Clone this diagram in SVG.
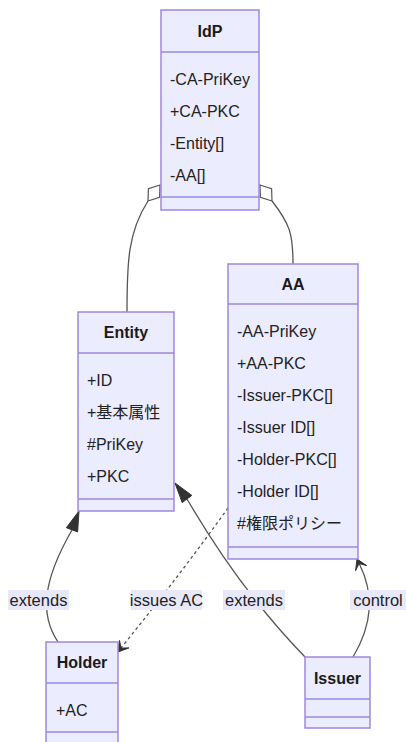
<svg xmlns="http://www.w3.org/2000/svg" width="406" height="742" viewBox="0 0 406 742">
  <style>
    .box { fill: #ececff; stroke: #a088e0; stroke-width: 1.5; }
    .div { stroke: #a088e0; stroke-width: 1.5; }
    .title { font-family: "Liberation Sans", "Noto Sans CJK JP", sans-serif; font-size: 16px; font-weight: bold; fill: #1a1a1a; text-anchor: middle; }
    .member { font-family: "Liberation Sans", "Noto Sans CJK JP", sans-serif; font-size: 16px; fill: #222; }
    .edge { fill: none; stroke: #555; stroke-width: 1.3; }
    .dotted { stroke-dasharray: 3 3; }
    .head { fill: #333; stroke: #333; stroke-width: 1; stroke-linejoin: miter; }
    .agg { fill: #ffffff; stroke: #555; stroke-width: 1.2; }
    .lblbg { fill: #e8e8fb; }
    .lbl { font-family: "Liberation Sans", "Noto Sans CJK JP", sans-serif; font-size: 16.5px; fill: #222; text-anchor: middle; }
  </style>

  <!-- connectors -->
  <g id="connectors">
    <!-- Entity aggregated by IdP -->
    <path class="edge" d="M127,312 C127,262 128,232 148,201"/>
    <polygon class="agg" points="148,201 148.4,188.8 160,185 159.6,197.2"/>
    <!-- AA aggregated by IdP -->
    <path class="edge" d="M293,264 C293,234 290,224 272,201"/>
    <polygon class="agg" points="272,201 271.6,188.8 260,185 260.4,197.2"/>

    <!-- Holder extends Entity -->
    <path class="edge" d="M58,642 C40,615 42,582 72,530"/>
    <polygon class="head" points="79,511 77.6,531.9 66.4,527.7"/>

    <!-- Issuer extends Entity -->
    <path class="edge" d="M305,657 Q240,590 187,499"/>
    <polygon class="head" points="175,483 191.8,495.4 182.2,502.6"/>

    <!-- AA issues AC to Holder -->
    <path class="edge dotted" d="M228,508 Q180,575 121,648"/>
    <polygon class="head" points="118,652 128.9,647.9 121.1,648.1 119.5,640.5"/>

    <!-- Issuer controls AA -->
    <path class="edge" d="M353,657 C372,625 375,595 359,563"/>
    <polygon class="head" points="357,559 366.6,565.6 359,563.5 355.6,570.6"/>

    <!-- edge labels -->
    <rect class="lblbg" x="8" y="590" width="61" height="20"/>
    <text class="lbl" x="38.5" y="606">extends</text>
    <rect class="lblbg" x="131" y="590" width="71" height="20"/>
    <text class="lbl" x="166.5" y="606">issues AC</text>
    <rect class="lblbg" x="223" y="590" width="62" height="20"/>
    <text class="lbl" x="254" y="606">extends</text>
    <rect class="lblbg" x="350" y="590" width="56" height="20"/>
    <text class="lbl" x="378" y="606">control</text>
  </g>

  <!-- IdP -->
  <g id="IdP">
    <rect class="box" x="161" y="10" width="98" height="200"/>
    <line class="div" x1="161" y1="52" x2="259" y2="52"/>
    <line class="div" x1="161" y1="197" x2="259" y2="197"/>
    <text class="title" x="210" y="37">IdP</text>
    <text class="member" x="170" y="85">-CA-PriKey</text>
    <text class="member" x="170" y="117">+CA-PKC</text>
    <text class="member" x="170" y="149">-Entity[]</text>
    <text class="member" x="170" y="181">-AA[]</text>
  </g>

  <!-- Entity -->
  <g id="Entity">
    <rect class="box" x="78" y="312" width="96" height="199"/>
    <line class="div" x1="78" y1="353" x2="174" y2="353"/>
    <line class="div" x1="78" y1="499" x2="174" y2="499"/>
    <text class="title" x="126" y="338">Entity</text>
    <text class="member" x="87" y="386">+ID</text>
    <text class="member" x="87" y="418">+基本属性</text>
    <text class="member" x="87" y="450">#PriKey</text>
    <text class="member" x="87" y="482">+PKC</text>
  </g>

  <!-- AA -->
  <g id="AA">
    <rect class="box" x="228" y="264" width="130" height="295"/>
    <line class="div" x1="228" y1="304" x2="358" y2="304"/>
    <line class="div" x1="228" y1="547" x2="358" y2="547"/>
    <text class="title" x="293" y="290">AA</text>
    <text class="member" x="237" y="337">-AA-PriKey</text>
    <text class="member" x="237" y="369">+AA-PKC</text>
    <text class="member" x="237" y="401">-Issuer-PKC[]</text>
    <text class="member" x="237" y="433">-Issuer ID[]</text>
    <text class="member" x="237" y="465">-Holder-PKC[]</text>
    <text class="member" x="237" y="497">-Holder ID[]</text>
    <text class="member" x="237" y="529">#権限ポリシー</text>
  </g>

  <!-- Holder -->
  <g id="Holder">
    <rect class="box" x="46" y="642" width="72" height="103"/>
    <line class="div" x1="46" y1="683" x2="118" y2="683"/>
    <line class="div" x1="46" y1="732" x2="118" y2="732"/>
    <text class="title" x="82" y="668">Holder</text>
    <text class="member" x="56" y="716">+AC</text>
  </g>

  <!-- Issuer -->
  <g id="Issuer">
    <rect class="box" x="305" y="657" width="65" height="71"/>
    <line class="div" x1="305" y1="699" x2="370" y2="699"/>
    <line class="div" x1="305" y1="717" x2="370" y2="717"/>
    <text class="title" x="337.5" y="684">Issuer</text>
  </g>
</svg>
